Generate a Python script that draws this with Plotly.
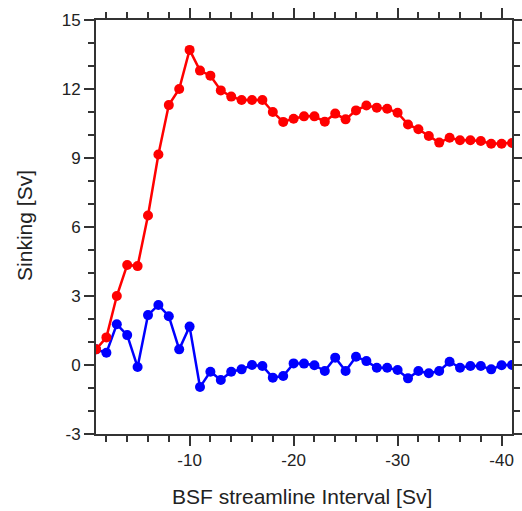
import plotly.graph_objects as go

interval = [-k for k in range(1, 42)]
sinking_red = [0.68, 1.2, 3.0, 4.35, 4.3, 6.5, 9.15, 11.3, 12.0, 13.7,
               12.8, 12.58, 11.94, 11.67, 11.52, 11.52, 11.52, 11.0, 10.57, 10.71,
               10.81, 10.81, 10.58, 10.93, 10.68, 11.07, 11.28, 11.19, 11.14, 10.97,
               10.46, 10.25, 9.96, 9.67, 9.88, 9.77, 9.77, 9.74, 9.62, 9.62, 9.65]
sinking_blue = [0.68, 0.53, 1.77, 1.30, -0.09, 2.17, 2.61, 2.12, 0.68, 1.67,
                -0.96, -0.29, -0.65, -0.29, -0.19, 0.0, -0.04, -0.55, -0.48, 0.07,
                0.06, -0.01, -0.26, 0.32, -0.26, 0.36, 0.17, -0.12, -0.12, -0.22,
                -0.58, -0.26, -0.36, -0.26, 0.14, -0.12, -0.04, -0.04, -0.19, -0.01, 0.0]
x_ticks = [-10, -20, -30, -40]
x_ticklabels = ["-10", "-20", "-30", "-40"]
y_ticks = [-3, 0, 3, 6, 9, 12, 15]
y_ticklabels = ["-3", "0", "3", "6", "9", "12", "15"]

FONT = "Liberation Sans, Arial, sans-serif"

fig = go.Figure()
fig.add_trace(go.Scatter(x=interval, y=sinking_blue, mode="lines+markers",
                         line=dict(color="#0000FF", width=2.5),
                         marker=dict(color="#0000FF", size=10), showlegend=False))
fig.add_trace(go.Scatter(x=interval, y=sinking_red, mode="lines+markers",
                         line=dict(color="#FF0000", width=2.5),
                         marker=dict(color="#FF0000", size=10), showlegend=False))

axis_common = dict(showgrid=False, zeroline=False, showline=True, linecolor="#333333",
                   linewidth=2, mirror="allticks", ticks="outside", ticklen=10,
                   tickwidth=2, tickcolor="#333333", automargin=False,
                   tickfont=dict(family=FONT, size=17, color="#222222"))

fig.update_xaxes(range=[-1, -41], tickmode="array", tickvals=x_ticks, ticktext=x_ticklabels,
                 minor=dict(tickmode="linear", tick0=0, dtick=2, ticks="outside", ticklen=6,
                            tickwidth=2, tickcolor="#333333"),
                 **axis_common)
fig.update_yaxes(range=[-3, 15], tickmode="array", tickvals=y_ticks, ticktext=y_ticklabels,
                 minor=dict(tickmode="linear", tick0=0, dtick=1, ticks="outside", ticklen=6,
                            tickwidth=2, tickcolor="#333333"),
                 **axis_common)

fig.add_annotation(text="BSF streamline Interval [Sv]", xref="paper", yref="paper",
                   x=0.4945, y=-0.152, xanchor="center", yanchor="middle", showarrow=False,
                   font=dict(family=FONT, size=21, color="#222222"))
fig.add_annotation(text="Sinking [Sv]", xref="paper", yref="paper",
                   x=-0.1707, y=0.505, xanchor="center", yanchor="middle", showarrow=False,
                   textangle=-90, font=dict(family=FONT, size=21, color="#222222"))

fig.update_layout(width=522, height=511, margin=dict(l=96, r=10, t=20, b=77),
                  plot_bgcolor="white", paper_bgcolor="white")

fig.write_html("out.html", config={"displayModeBar": False},
               post_script="document.body.style.margin='0px';document.body.style.overflow='hidden';")
